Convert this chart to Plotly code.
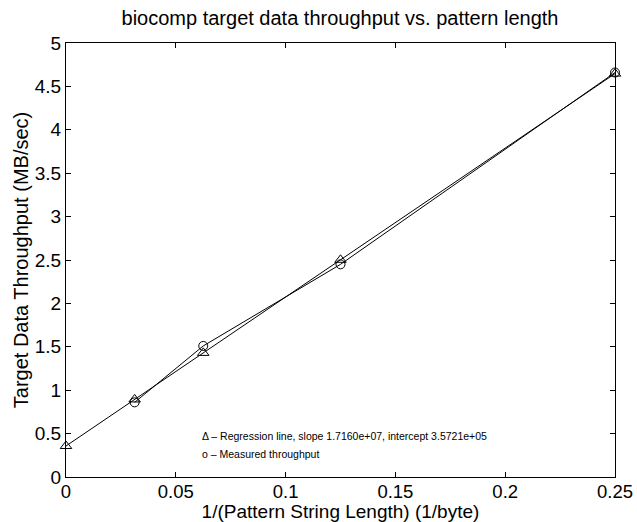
import plotly.graph_objects as go

x_vals = [0.0, 0.03125, 0.0625, 0.125, 0.25]
regression_y = [0.35721, 0.89346, 1.42971, 2.50221, 4.64721]
measured_x = [0.03125, 0.0625, 0.125, 0.25]
measured_y = [0.86, 1.51, 2.45, 4.66]
x_ticks = [0, 0.05, 0.1, 0.15, 0.2, 0.25]
x_tick_labels = ["0", "0.05", "0.1", "0.15", "0.2", "0.25"]
y_ticks = [0, 0.5, 1, 1.5, 2, 2.5, 3, 3.5, 4, 4.5, 5]
y_tick_labels = ["0", "0.5", "1", "1.5", "2", "2.5", "3", "3.5", "4", "4.5", "5"]
legend_lines = ["\u0394 \u2013 Regression line, slope 1.7160e+07, intercept 3.5721e+05",
                "o \u2013 Measured throughput"]

font = "Liberation Sans, Arial, Helvetica, sans-serif"

fig = go.Figure()
fig.add_trace(go.Scatter(x=x_vals, y=regression_y, mode="lines+markers",
                         line=dict(color="black", width=1),
                         marker=dict(symbol="triangle-up-open", size=10, color="black",
                                     line=dict(width=1, color="black")),
                         cliponaxis=False, showlegend=False))
fig.add_trace(go.Scatter(x=measured_x, y=measured_y, mode="lines+markers",
                         line=dict(color="black", width=1),
                         marker=dict(symbol="circle-open", size=9, color="black",
                                     line=dict(width=1, color="black")),
                         cliponaxis=False, showlegend=False))

for i, t in enumerate(legend_lines):
    fig.add_annotation(x=0.061, y=0.47 - i * 0.21, xref="x", yref="y", text=t,
                       showarrow=False, xanchor="left", yanchor="middle",
                       font=dict(family=font, size=10.5, color="black"))

axis_common = dict(showgrid=False, zeroline=False, showline=True, linecolor="black",
                   linewidth=1, mirror="ticks", ticks="inside", ticklen=5,
                   tickcolor="black", automargin=False)

fig.update_layout(
    width=637, height=522,
    paper_bgcolor="white", plot_bgcolor="white",
    margin=dict(l=66, r=22, t=43, b=45, autoexpand=False),
    title=dict(text="biocomp target data throughput vs. pattern length",
               x=340 / 637, xanchor="center", y=1 - 18 / 522, yanchor="middle",
               font=dict(family=font, size=20, color="black")),
    xaxis=dict(range=[0, 0.25], tickvals=x_ticks, ticktext=x_tick_labels,
               tickfont=dict(family=font, size=18.5, color="black"),
               ticklabelstandoff=-2,
               title=dict(text="1/(Pattern String Length) (1/byte)", standoff=3,
                          font=dict(family=font, size=19, color="black")),
               **axis_common),
    yaxis=dict(range=[0, 5], tickvals=y_ticks, ticktext=y_tick_labels,
               tickfont=dict(family=font, size=19, color="black"),
               title=dict(text="Target Data Throughput (MB/sec)", standoff=0,
                          font=dict(family=font, size=20, color="black")),
               **axis_common),
)

fig.write_html("out.html", config={"displayModeBar": False},
               post_script="document.body.style.margin='0';document.body.style.overflow='hidden';")
